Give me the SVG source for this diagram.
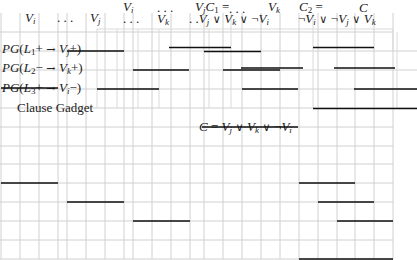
<svg xmlns="http://www.w3.org/2000/svg" width="417" height="260" viewBox="0 0 417 260">
<style>
.g{stroke:#d0d0d0;stroke-width:1;fill:none}
.g2{stroke:#dadada;stroke-width:1;fill:none}
.b{stroke:#111;stroke-width:1.6;fill:none}
.t{font-family:"Liberation Serif","DejaVu Serif",serif;font-size:13px;fill:#222}
.i{font-style:italic}
.s{font-size:9px}
.o{font-family:"DejaVu Serif",serif;font-size:11px}
</style>
<rect width="417" height="260" fill="#fff"/>
<g id="grid">
<path class="g" d="M1 13V259M20 13V259M39 13V259M58 13V259M67 13V259M86 13V259M105 13V259M124 13V259M133 13V259M152 13V259M171 13V259M190 13V259M204 13V259M223 13V259M242 13V259M261 13V259M280 13V259M299 13V259M318 13V259M337 13V259M355 13V259M374 13V259M393 13V259"/>
<path class="g" d="M0 32H393M0 51H417M0 70H417M0 89H417M0 108H417M0 127H393M0 146H393M0 164H393M0 183H393M0 202H393M0 221H393M0 240H393M0 259H393"/>
<path class="g2" d="M97 29H393V51M97 29V108M117 29V108M138 29V108M159 29V108M209 29V108M231 13V108M313 13V108M397 32V108"/>
</g>
<g id="labels">
<text class="t i" x="25" y="22">V<tspan class="s" dy="2">i</tspan></text>
<text class="t" x="57" y="22">. . .</text>
<text class="t i" x="90" y="22">V<tspan class="s" dy="2">j</tspan></text>
<text class="t i" x="123" y="11">V<tspan class="s" dy="2">i</tspan></text>
<text class="t" x="123" y="23">. . .</text>
<text class="t" x="157" y="12">. . .</text>
<text class="t i" x="157" y="23">V<tspan class="s" dy="2">k</tspan></text>
<text class="t i" x="195" y="11">V<tspan class="s" dy="2">j</tspan><tspan dy="-2">C</tspan><tspan class="s" dy="2" font-style="normal">1</tspan><tspan dy="-2" font-style="normal"> =</tspan></text>
<text class="t" x="229" y="13">. . .</text>
<text class="t" x="189" y="23">. .<tspan class="i">V</tspan><tspan class="s i" dy="2">j</tspan><tspan dy="-2" class="o"> ∨ </tspan><tspan class="i">V</tspan><tspan class="s i" dy="2">k</tspan><tspan dy="-2" class="o"> ∨ </tspan>¬<tspan class="i">V</tspan><tspan class="s i" dy="2">i</tspan></text>
<text class="t i" x="268" y="11">V<tspan class="s" dy="2">k</tspan></text>
<text class="t i" x="299" y="11">C<tspan class="s" dy="2" font-style="normal">2</tspan><tspan dy="-2" font-style="normal"> =</tspan></text>
<text class="t i" x="359" y="12">C</text>
<text class="t" x="298" y="23">¬<tspan class="i">V</tspan><tspan class="s i" dy="2">i</tspan><tspan dy="-2" class="o"> ∨ </tspan>¬<tspan class="i">V</tspan><tspan class="s i" dy="2">j</tspan><tspan dy="-2" class="o"> ∨ </tspan><tspan class="i">V</tspan><tspan class="s i" dy="2">k</tspan></text>
</g>
<g id="pg1"><text class="t" x="2" y="53"><tspan class="i">PG</tspan>(<tspan class="i">L</tspan><tspan class="s" dy="2">1</tspan><tspan dy="-2">+</tspan><tspan class="o"> → </tspan><tspan class="i">V</tspan><tspan class="s i" dy="2">j</tspan><tspan dy="-2">+)</tspan></text></g>
<g id="pg2"><text class="t" x="2" y="72"><tspan class="i">PG</tspan>(<tspan class="i">L</tspan><tspan class="s" dy="2">2</tspan><tspan dy="-2">−</tspan><tspan class="o"> → </tspan><tspan class="i">V</tspan><tspan class="s i" dy="2">k</tspan><tspan dy="-2">+)</tspan></text></g>
<g id="pg3"><text class="t" x="2" y="92"><tspan class="i">PG</tspan>(<tspan class="i">L</tspan><tspan class="s" dy="2">3</tspan><tspan dy="-2">+</tspan><tspan class="o"> → </tspan><tspan class="i">V</tspan><tspan class="s i" dy="2">i</tspan><tspan dy="-2">−)</tspan></text></g>
<g id="gadget"><text class="t" x="17" y="112">Clause Gadget</text></g>
<g id="clause"><text class="t" x="199" y="131"><tspan class="i">C</tspan> = <tspan class="i">V</tspan><tspan class="s i" dy="2">j</tspan><tspan dy="-2" class="o"> ∨ </tspan><tspan class="i">V</tspan><tspan class="s i" dy="2">k</tspan><tspan dy="-2" class="o"> ∨ </tspan>¬<tspan class="i">V</tspan><tspan class="s i" dy="2">i</tspan></text></g>
<g id="connectors">
<path class="b" d="M67 51H124M169 47.5H231M204 51.5H261M313 47.5H374M133 70H189M223 70H280M241 68H303M334 68H395M97 89H159M242 89H298M354 89H417M313 108.5H417M1 88H58M202 127H298"/>
<path class="b" d="M1 183H58M67 202H124M133 221H190M299 183H355M318 202H374M337 221H393M299 259H393"/>
</g>
</svg>
